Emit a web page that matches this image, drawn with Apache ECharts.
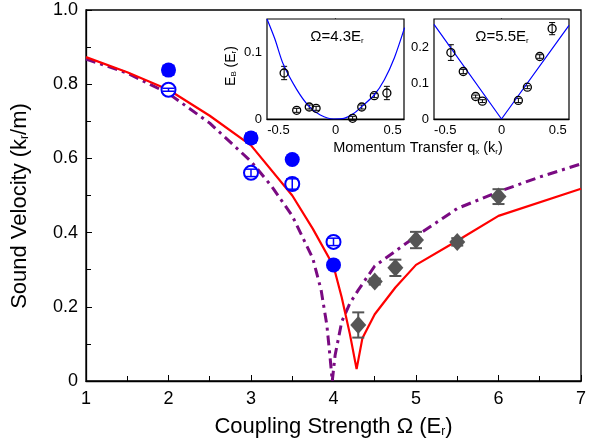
<!DOCTYPE html>
<html><head><meta charset="utf-8">
<script src="https://cdn.jsdelivr.net/npm/echarts@6/dist/echarts.min.js"></script>
<style>html,body{margin:0;padding:0;background:#fff}#c{width:589px;height:445px}</style>
</head><body><div id="c"></div>
<script>
// ---- main panel data ----
const filledX = [2, 3, 3.5, 4];
const filledY = [0.838, 0.655, 0.597, 0.313];
const filledErr = [0.012, 0.012, 0.004, 0.004];
const openX = [2, 3, 3.5, 4];
const openY = [0.785, 0.561, 0.531, 0.375];
const openErr = [0.004, 0.01, 0.014, 0.01];
const diamondX = [4.3, 4.5, 4.75, 5, 5.5, 6];
const diamondY = [0.151, 0.268, 0.305, 0.38, 0.375, 0.497];
const diamondErr = [0.034, 0.008, 0.022, 0.022, 0.01, 0.02];
const redX = [1, 1.5, 2, 2.5, 3, 3.5, 3.75, 4, 4.1, 4.2, 4.28, 4.35, 4.5, 4.75, 5, 5.5, 6, 7];
const redY = [0.873, 0.832, 0.785, 0.715, 0.635, 0.5, 0.41, 0.31, 0.225, 0.125, 0.032, 0.115, 0.18, 0.252, 0.313, 0.378, 0.445, 0.518];
const purpleX = [1, 1.5, 2, 2.5, 3, 3.25, 3.5, 3.75, 3.85, 3.92, 3.96, 3.985, 4.02, 4.1, 4.2, 4.3, 4.5, 4.75, 5, 5.5, 6, 6.5, 7];
const purpleY = [0.868, 0.83, 0.775, 0.695, 0.592, 0.525, 0.445, 0.33, 0.245, 0.15, 0.06, 0, 0.07, 0.16, 0.21, 0.245, 0.31, 0.35, 0.39, 0.465, 0.51, 0.55, 0.585];
const mainXLabels = [1, 2, 3, 4, 5, 6, 7];
const mainYLabels = [0, 0.2, 0.4, 0.6, 0.8, 1.0];
// ---- inset A (Ω=4.3) ----
const insetAq = [-0.45, -0.34, -0.23, -0.17, 0.15, 0.23, 0.34, 0.45];
const insetAE = [0.069, 0.013, 0.018, 0.016, 0.001, 0.018, 0.035, 0.039];
const insetAErr = [0.01, 0.003, 0.003, 0.003, 0.003, 0.003, 0.003, 0.01];
const curveAq = [-0.6, -0.531, -0.457, -0.339, -0.236, -0.133, -0.015, 0.074, 0.162, 0.236, 0.339, 0.428, 0.516, 0.605];
const curveAE = [0.15, 0.12, 0.082, 0.044, 0.0197, 0.006, 0, 0.001, 0.0086, 0.0197, 0.036, 0.059, 0.092, 0.137];
// ---- inset B (Ω=5.5) ----
const insetBq = [-0.45, -0.34, -0.23, -0.17, 0.15, 0.23, 0.34, 0.45];
const insetBE = [0.186, 0.133, 0.063, 0.05, 0.052, 0.089, 0.175, 0.253];
const insetBErr = [0.022, 0.006, 0.004, 0.004, 0.006, 0.004, 0.005, 0.017];
const curveBq = [-0.6, 0, 0.6];
const curveBE = [0.265, 0, 0.262];
const insetXLabels = [-0.5, 0, 0.5];

const FONT = 'Liberation Sans, Arial, Helvetica, sans-serif';
const zip = (a, b, c) => a.map((v, i) => c ? [v, b[i], c[i]] : [v, b[i]]);

function errRender(capW, color, lw) {
  return function (params, api) {
    const x = api.value(0), y = api.value(1), e = api.value(2);
    const p1 = api.coord([x, y + e]), p2 = api.coord([x, y - e]);
    const h = capW / 2;
    const st = { stroke: color, lineWidth: lw };
    return { type: 'group', children: [
      { type: 'line', shape: { x1: p1[0], y1: p1[1], x2: p2[0], y2: p2[1] }, style: st },
      { type: 'line', shape: { x1: p1[0] - h, y1: p1[1], x2: p1[0] + h, y2: p1[1] }, style: st },
      { type: 'line', shape: { x1: p2[0] - h, y1: p2[1], x2: p2[0] + h, y2: p2[1] }, style: st }
    ] };
  };
}
function errSeries(data, xi, capW, color, lw, z) {
  return { type: 'custom', xAxisIndex: xi, yAxisIndex: xi, data: data, encode: { x: 0, y: 1 },
    renderItem: errRender(capW, color, lw), z: z, silent: true };
}
const subRich = {
  sub: { fontSize: 12, fontFamily: FONT, color: '#000', verticalAlign: 'bottom', padding: [7, 0, 0, 0] }
};
const subRichS = {
  sub: { fontSize: 8, fontFamily: FONT, color: '#000', verticalAlign: 'bottom', padding: [5, 0, 0, 0] }
};

const chart = echarts.init(document.getElementById('c'), null, { renderer: 'canvas' });
const axisLine = { lineStyle: { color: '#000', width: 1.3 } };
const option = {
  animation: false,
  backgroundColor: '#fff',
  grid: [
    { left: 86, top: 10, width: 496, height: 371, show: true, borderColor: '#000', borderWidth: 1.3, backgroundColor: 'transparent' },
    { left: 267, top: 19, width: 137, height: 100, show: true, borderColor: '#000', borderWidth: 1.2, backgroundColor: '#fff', z: 5 },
    { left: 434, top: 19, width: 135, height: 100, show: true, borderColor: '#000', borderWidth: 1.2, backgroundColor: '#fff', z: 5 }
  ],
  xAxis: [
    { type: 'value', gridIndex: 0, min: 1, max: 7, interval: 1,
      axisLine: axisLine, splitLine: { show: false },
      axisTick: { inside: true, length: 6, lineStyle: { color: '#000' } },
      minorTick: { show: true, splitNumber: 2, length: 5, lineStyle: { color: '#000' } },
      axisLabel: { fontSize: 18, fontFamily: FONT, color: '#000', margin: 9,
        customValues: mainXLabels, formatter: v => String(v) },
      name: 'Coupling Strength Ω (E{sub|r})', nameLocation: 'middle', nameGap: 35,
      nameTextStyle: { fontSize: 22, fontFamily: FONT, color: '#000', rich: subRich } },
    { type: 'value', gridIndex: 1, min: -0.6, max: 0.6,
      axisLine: axisLine, splitLine: { show: false },
      axisTick: { inside: true, length: 4, customValues: insetXLabels, lineStyle: { color: '#000' } },
      axisLabel: { fontSize: 13, fontFamily: FONT, color: '#000', margin: 5, customValues: insetXLabels,
        formatter: v => (v === 0 ? '0' : String(v)) } },
    { type: 'value', gridIndex: 2, min: -0.6, max: 0.6,
      axisLine: axisLine, splitLine: { show: false },
      axisTick: { inside: true, length: 4, customValues: insetXLabels, lineStyle: { color: '#000' } },
      axisLabel: { fontSize: 13, fontFamily: FONT, color: '#000', margin: 5, customValues: insetXLabels,
        formatter: v => (v === 0 ? '0' : String(v)) } }
  ],
  yAxis: [
    { type: 'value', gridIndex: 0, min: 0, max: 1, interval: 0.2,
      axisLine: axisLine, splitLine: { show: false },
      axisTick: { inside: true, length: 6, lineStyle: { color: '#000' } },
      minorTick: { show: true, splitNumber: 2, length: 5, lineStyle: { color: '#000' } },
      axisLabel: { fontSize: 18, fontFamily: FONT, color: '#000', margin: 8,
        customValues: mainYLabels, formatter: v => (v === 0 ? '0' : v.toFixed(1)) } },
    { type: 'value', gridIndex: 1, min: 0, max: 0.15,
      axisLine: axisLine, splitLine: { show: false },
      axisTick: { inside: true, length: 4, customValues: [0, 0.05, 0.1], lineStyle: { color: '#000' } },
      axisLabel: { fontSize: 13, fontFamily: FONT, color: '#000', margin: 5, customValues: [0, 0.1],
        formatter: v => (v === 0 ? '0' : String(v)) } },
    { type: 'value', gridIndex: 2, min: 0, max: 0.28,
      axisLine: axisLine, splitLine: { show: false },
      axisTick: { inside: true, length: 4, customValues: [0, 0.1, 0.2], lineStyle: { color: '#000' } },
      axisLabel: { fontSize: 13, fontFamily: FONT, color: '#000', margin: 5, customValues: [0, 0.1, 0.2],
        formatter: v => (v === 0 ? '0' : String(v)) } }
  ],
  graphic: [
    { type: 'text', x: 20, y: 206, rotation: Math.PI / 2, z: 100,
      style: { text: 'Sound Velocity (k{sub|r}/m)', font: '22px ' + FONT, fill: '#000',
        align: 'center', verticalAlign: 'middle', rich: subRich } },
    { type: 'text', x: 418, y: 148, z: 100,
      style: { text: 'Momentum Transfer q{sub|x} (k{sub|r})', font: '14.5px ' + FONT, fill: '#000',
        align: 'center', verticalAlign: 'middle', rich: subRichS } },
    { type: 'text', x: 231, y: 66, rotation: Math.PI / 2, z: 100,
      style: { text: 'E{sub|B} (E{sub|r})', font: '14px ' + FONT, fill: '#000',
        align: 'center', verticalAlign: 'middle', rich: subRichS } },
    { type: 'text', x: 337, y: 37, z: 100,
      style: { text: 'Ω=4.3E{sub|r}', font: '15px ' + FONT, fill: '#000',
        align: 'center', verticalAlign: 'middle', rich: subRichS } },
    { type: 'text', x: 502, y: 37, z: 100,
      style: { text: 'Ω=5.5E{sub|r}', font: '15px ' + FONT, fill: '#000',
        align: 'center', verticalAlign: 'middle', rich: subRichS } }
  ],
  series: [
    { type: 'line', xAxisIndex: 0, yAxisIndex: 0, data: zip(purpleX, purpleY), showSymbol: false, symbol: 'none',
      lineStyle: { color: '#7a0a82', width: 3, type: [10, 5, 3, 5] }, z: 2 },
    { type: 'line', xAxisIndex: 0, yAxisIndex: 0, data: zip(redX, redY), showSymbol: false, symbol: 'none',
      lineStyle: { color: '#ff0000', width: 2.2 }, z: 3 },
    errSeries(zip(filledX, filledY, filledErr), 0, 12, '#0000ff', 2, 4),
    { type: 'scatter', xAxisIndex: 0, yAxisIndex: 0, data: zip(filledX, filledY), symbol: 'circle', symbolSize: 15,
      itemStyle: { color: '#0000ff', opacity: 1 }, z: 5 },
    { type: 'scatter', xAxisIndex: 0, yAxisIndex: 0, data: zip(openX, openY), symbol: 'circle', symbolSize: 14,
      itemStyle: { color: '#fff', borderColor: '#0000ff', borderWidth: 2, opacity: 1 }, z: 5 },
    errSeries(zip(openX, openY, openErr), 0, 12, '#0000ff', 1.5, 6),
    errSeries(zip(diamondX, diamondY, diamondErr), 0, 12, '#555555', 2, 4),
    { type: 'scatter', xAxisIndex: 0, yAxisIndex: 0, data: zip(diamondX, diamondY), symbol: 'diamond', symbolSize: [16, 18],
      itemStyle: { color: '#555555', opacity: 1 }, z: 5 },
    // inset A
    { type: 'line', xAxisIndex: 1, yAxisIndex: 1, data: zip(curveAq, curveAE), showSymbol: false, symbol: 'none',
      smooth: 0.3, lineStyle: { color: '#0000ff', width: 1.2 }, z: 10 },
    errSeries(zip(insetAq, insetAE, insetAErr), 1, 6, '#000', 1, 10),
    { type: 'scatter', xAxisIndex: 1, yAxisIndex: 1, data: zip(insetAq, insetAE), symbol: 'circle', symbolSize: 8,
      itemStyle: { color: 'rgba(255,255,255,0)', borderColor: '#000', borderWidth: 1.3, opacity: 1 }, z: 11 },
    // inset B
    { type: 'line', xAxisIndex: 2, yAxisIndex: 2, data: zip(curveBq, curveBE), showSymbol: false, symbol: 'none',
      lineStyle: { color: '#0000ff', width: 1.2 }, z: 10 },
    errSeries(zip(insetBq, insetBE, insetBErr), 2, 6, '#000', 1, 10),
    { type: 'scatter', xAxisIndex: 2, yAxisIndex: 2, data: zip(insetBq, insetBE), symbol: 'circle', symbolSize: 8,
      itemStyle: { color: 'rgba(255,255,255,0)', borderColor: '#000', borderWidth: 1.3, opacity: 1 }, z: 11 }
  ]
};
chart.setOption(option);
</script>
</body></html>
